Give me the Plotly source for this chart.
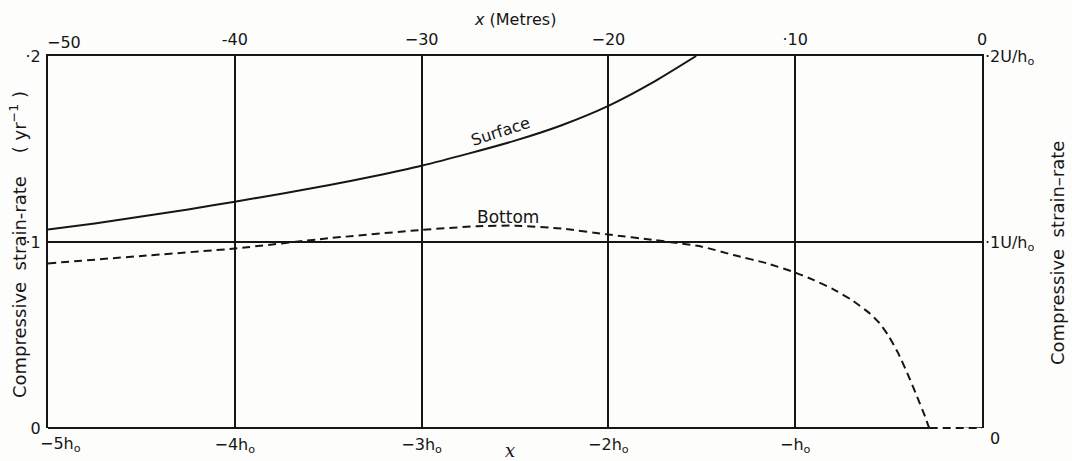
import plotly.graph_objects as go

# Distance from the ice front, metres
surface_x = [-50, -47.5, -45, -42.5, -40, -37.5, -35, -32.5, -30, -27.5, -25, -22.5, -20, -17.5, -15.3]
surface_rate = [0.1067, 0.110, 0.1137, 0.1175, 0.1217, 0.126, 0.1305, 0.1355, 0.141,
                0.1475, 0.1545, 0.1628, 0.1732, 0.1865, 0.2]

bottom_x = [-50, -45, -40, -35, -30, -27, -25, -22.5, -20, -17.5, -15, -13.3, -11.5, -10,
            -9, -8, -7, -6, -5.5, -5, -4.5, -4, -3.5, -3, -2.8, 0]
bottom_rate = [0.0885, 0.0925, 0.0965, 0.102, 0.1065, 0.1085, 0.1088, 0.1072, 0.104, 0.101,
               0.0975, 0.093, 0.0885, 0.0836, 0.0795, 0.0748, 0.069, 0.0615, 0.0565,
               0.0495, 0.0405, 0.0295, 0.0175, 0.005, 0.0, 0.0]

metre_ticks = [-40, -30, -20, -10, 0]
metre_labels = ["-40", "−30", "−20", "·10", "0"]
h_ticks = [-50, -40, -30, -20, -10]
h_labels = ["", "−4h<sub>o</sub>", "−3h<sub>o</sub>", "−2h<sub>o</sub>", "−h<sub>o</sub>"]
rate_ticks = [0, 0.1, 0.2]
rate_labels = ["0", "·1", "·2"]
u_ticks = [0.1, 0.2]
u_labels = ["·1U/h<sub>o</sub>", "·2U/h<sub>o</sub>"]

INK = "#161616"
BG = "#fdfdfb"
FONT = "DejaVu Sans"

# stretch where the bottom strain-rate stays at zero
zero_xs = [x for x, r in zip(bottom_x, bottom_rate) if r == 0]

fig = go.Figure()

fig.add_trace(go.Scatter(
    x=surface_x, y=surface_rate, mode="lines",
    line=dict(color=INK, width=2, shape="spline", smoothing=0.6),
    showlegend=False, hoverinfo="skip"))

fig.add_trace(go.Scatter(
    x=bottom_x, y=bottom_rate, mode="lines",
    line=dict(color=INK, width=2, dash="8px,5px", shape="spline", smoothing=0.5),
    showlegend=False, hoverinfo="skip"))

# invisible trace to activate the top metre axis and right U/h axis
fig.add_trace(go.Scatter(x=[-50, 0], y=[0, 0.2], xaxis="x2", yaxis="y2",
                         mode="markers", marker=dict(opacity=0),
                         showlegend=False, hoverinfo="skip"))

axis_font = dict(family=FONT, size=16, color=INK)

fig.update_layout(
    width=1072, height=461,
    margin=dict(l=48, r=90, t=56, b=33),
    paper_bgcolor=BG, plot_bgcolor=BG,
    font=axis_font,
    xaxis=dict(range=[-50, 0], tickvals=h_ticks, ticktext=h_labels, automargin=False,
               showgrid=True, gridcolor=INK, gridwidth=2,
               showline=False, zeroline=False, ticks="", tickfont=axis_font,
               ticklabelstandoff=5),
    yaxis=dict(range=[0, 0.2], tickvals=rate_ticks, ticktext=rate_labels, automargin=False,
               showgrid=False,
               showline=True, linecolor=INK, linewidth=2, mirror=True,
               zeroline=False, ticks="", tickfont=axis_font, ticklabelstandoff=2),
    xaxis2=dict(range=[-50, 0], overlaying="x", side="top", automargin=False,
                tickvals=metre_ticks, ticktext=metre_labels,
                showline=True, linecolor=INK, linewidth=2,
                showgrid=False, zeroline=False, ticks="", tickfont=axis_font,
                ticklabelstandoff=3),
    yaxis2=dict(range=[0, 0.2], overlaying="y", side="right", automargin=False,
                tickvals=u_ticks, ticktext=u_labels,
                showgrid=True, gridcolor=INK, gridwidth=2,
                zeroline=False, ticks="", tickfont=axis_font, ticklabelstandoff=2),
)

# bottom frame edge: solid up to where the dashed bottom curve runs along zero,
# then the dashed zero stretch itself
fig.add_shape(type="line", xref="x", yref="paper", x0=-50, x1=min(zero_xs), y0=0, y1=0,
              line=dict(color=INK, width=2))
fig.add_shape(type="line", xref="x", yref="paper", x0=min(zero_xs), x1=max(zero_xs),
              y0=0, y1=0, line=dict(color=INK, width=2, dash="8px,5px"))

annotations = [
    dict(text="<i>x</i> (Metres)", xref="paper", yref="paper", x=0.5, y=1,
         yanchor="middle", yshift=37, showarrow=False,
         font=dict(family=FONT, size=16, color=INK)),
    dict(text="<i>x</i>", xref="paper", yref="paper", x=0.5, y=0, yanchor="middle",
         xshift=-5, yshift=-22, showarrow=False,
         font=dict(family="DejaVu Serif", size=18, color=INK)),
    dict(text="−50", xref="x", yref="paper", x=-50, y=1, xanchor="center", yanchor="middle",
         xshift=16, yshift=14, showarrow=False, font=axis_font),
    dict(text="−5h<sub>o</sub>", xref="x", yref="paper", x=-50, y=0, xanchor="center",
         yanchor="middle", xshift=12, yshift=-16, showarrow=False, font=axis_font),
    dict(text="0", xref="x", yref="paper", x=0, y=0, xanchor="center", yanchor="middle",
         xshift=13, yshift=-10, showarrow=False, font=axis_font),
    dict(text="Surface", xref="x", yref="y", x=-25.8, y=0.1595, textangle=-18,
         showarrow=False, font=dict(family=FONT, size=16, color=INK)),
    dict(text="Bottom", xref="x", yref="y", x=-25.4, y=0.1135,
         showarrow=False, font=dict(family=FONT, size=17, color=INK)),
    dict(text="Compressive  strain-rate    ( yr<sup>−1</sup> )", xref="paper", yref="paper",
         x=0, y=0.5, xanchor="center", yanchor="middle", xshift=-30, yshift=-3,
         textangle=-90, showarrow=False, font=dict(family=FONT, size=18, color=INK)),
    dict(text="Compressive  strain–rate", xref="paper", yref="paper",
         x=1, y=0.5, xanchor="center", yanchor="middle", xshift=75, yshift=-11,
         textangle=-90, showarrow=False, font=dict(family=FONT, size=18, color=INK)),
]
fig.update_layout(annotations=annotations)

fig.write_html("out.html")
